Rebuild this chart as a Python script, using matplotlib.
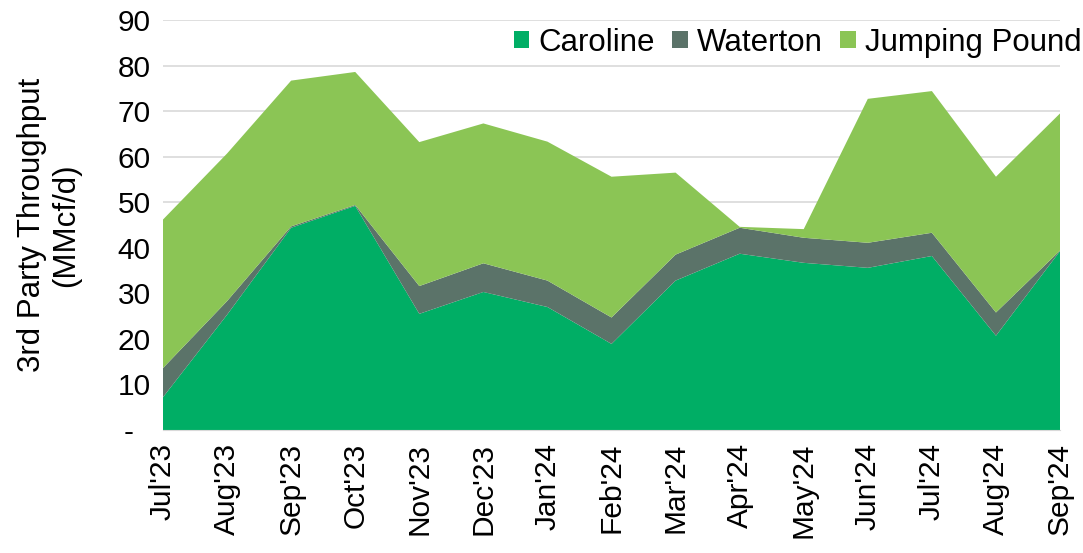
import numpy as np
import matplotlib.pyplot as plt

plt.rcParams['font.family'] = ['Liberation Sans', 'DejaVu Sans']

# months
months = ["Jul'23", "Aug'23", "Sep'23", "Oct'23", "Nov'23", "Dec'23", "Jan'24",
          "Feb'24", "Mar'24", "Apr'24", "May'24", "Jun'24", "Jul'24", "Aug'24", "Sep'24"]
# throughput by plant (MMcf/d)
caroline = [7.2, 25.3, 44.4, 49.2, 25.5, 30.3, 27.0, 18.9, 32.8, 38.7, 36.7, 35.6, 38.2, 20.7, 39.3]
waterton = [6.4, 3.0, 0.3, 0.2, 6.1, 6.3, 5.8, 5.8, 5.7, 5.7, 5.5, 5.5, 5.1, 5.1, 0.1]
jumping_pound = [32.6, 32.4, 32.0, 29.2, 31.6, 30.7, 30.5, 30.9, 18.0, 0.2, 1.9, 31.6, 31.1, 29.8, 30.1]

x = np.arange(len(months))

fig = plt.figure(figsize=(10.83, 5.53), dpi=100)
ax = fig.add_axes([0.1505, 0.2224, 0.8283, 0.7414])

ax.stackplot(x, caroline, waterton, jumping_pound,
             colors=['#00AE65', '#5B7369', '#8BC555'],
             labels=['Caroline', 'Waterton', 'Jumping Pound'], zorder=2)

ax.set_xlim(0, len(months) - 1)
ax.set_ylim(0, 90)
ax.set_yticks(np.arange(0, 100, 10))
ax.set_yticklabels(['-  '] + [str(v) for v in range(10, 100, 10)])
ax.yaxis.grid(True, color='#D9D9D9', linewidth=1.2, zorder=0)
ax.set_axisbelow(True)
ax.set_xticks(x)
ax.set_xticklabels(months, rotation=90)
ax.tick_params(axis='both', length=0, labelsize=21.5, pad=9)
for s in ['top', 'right', 'left']:
    ax.spines[s].set_visible(False)
ax.spines['bottom'].set_color('#D9D9D9')

ax.set_ylabel('3rd Party Throughput\n(MMcf/d)', fontsize=22.5, linespacing=1.2, labelpad=26)

ax.legend(loc='upper right', bbox_to_anchor=(0.999, 0.95), bbox_transform=fig.transFigure,
          ncol=3, frameon=False, borderpad=0, borderaxespad=0,
          fontsize=22.5, handlelength=0.5, handleheight=0.5, handletextpad=0.3,
          columnspacing=0.55)

plt.savefig('out.png', dpi=100)
